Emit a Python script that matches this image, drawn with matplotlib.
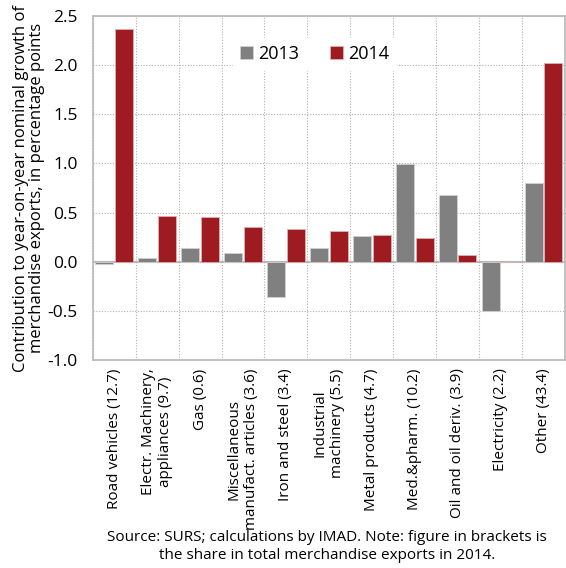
import numpy as np
import matplotlib
matplotlib.use('Agg')
import matplotlib.pyplot as plt

plt.rcParams['font.family'] = ['Open Sans', 'DejaVu Sans']

# data
categories = ['Road vehicles (12.7)', 'Electr. Machinery,\nappliances (9.7)', 'Gas (0.6)',
              'Miscellaneous\nmanufact. articles (3.6)', 'Iron and steel (3.4)',
              'Industrial\nmachinery (5.5)', 'Metal products (4.7)', 'Med.&pharm. (10.2)',
              'Oil and oil deriv. (3.9)', 'Electricity (2.2)', 'Other (43.4)']
v2013 = [-0.02, 0.04, 0.14, 0.09, -0.36, 0.14, 0.26, 0.99, 0.68, -0.50, 0.80]
v2014 = [2.37, 0.47, 0.46, 0.35, 0.33, 0.31, 0.27, 0.24, 0.07, 0.00, 2.02]

GREY = '#808080'
RED = '#9e1b22'

fig = plt.figure(figsize=(5.66, 5.68), dpi=100)
ax = fig.add_axes([0.164, 0.366, 0.834, 0.606])

x = np.arange(len(categories))
w = 0.42
ax.bar(x - 0.23, v2013, w, color=GREY, edgecolor='#d0d0d0', linewidth=0.6, label='2013', zorder=3)
ax.bar(x + 0.23, v2014, w, color=RED, edgecolor='#e0b0b0', linewidth=0.6, label='2014', zorder=3)

ax.set_xlim(-0.5, len(categories) - 0.5)
ax.set_ylim(-1.0, 2.5)
ax.set_yticks(np.arange(-1.0, 2.51, 0.5))
ax.set_yticklabels([f'{t:.1f}' for t in np.arange(-1.0, 2.51, 0.5)], fontsize=12.5)
ax.set_xticks(x)
ax.set_xticklabels(categories, rotation=90, fontsize=11, ha='center', va='top')
ax.set_xticks(np.arange(-0.5, len(categories), 1), minor=True)
ax.tick_params(axis='both', which='both', length=0)
ax.tick_params(axis='x', pad=6)
ax.tick_params(axis='y', pad=11)

ax.grid(axis='y', which='major', linestyle=(0, (1, 1.5)), color='#b0b0b0', linewidth=0.8, zorder=0)
ax.grid(axis='x', which='minor', linestyle=(0, (1, 1.5)), color='#b0b0b0', linewidth=0.8, zorder=0)
ax.axhline(0, color='#b8b8b8', linewidth=1.5, zorder=2)
for s in ax.spines.values():
    s.set_color('#b8b8b8')
    s.set_linewidth(1.2)

ax.set_ylabel('Contribution to year-on-year nominal growth of\nmerchandise exports, in percentage points',
              fontsize=12, labelpad=2, linespacing=1.0)

leg = ax.legend(loc='center', bbox_to_anchor=(0.47, 0.89), ncol=2, frameon=True, fontsize=13,
                handlelength=0.7, handleheight=0.7, handletextpad=0.3, columnspacing=1.7,
                borderpad=0.4, fancybox=False)
leg.get_frame().set_edgecolor('white')
leg.get_frame().set_facecolor('white')
leg.get_frame().set_alpha(1)
leg.set_zorder(4)

fig.text(0.578, 0.038, 'Source: SURS; calculations by IMAD. Note: figure in brackets is\n'
         'the share in total merchandise exports in 2014.',
         ha='center', va='center', fontsize=11, linespacing=1.25)

fig.savefig('out.png', dpi=100)
